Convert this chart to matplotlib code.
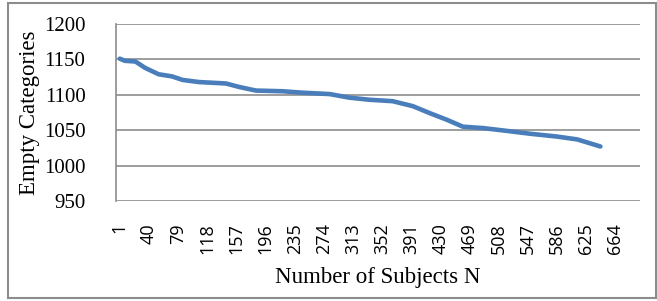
import matplotlib
matplotlib.use("Agg")
import matplotlib.pyplot as plt
from matplotlib.patches import Rectangle

# points (subject index, empty categories)
n_subjects = [1, 8, 22, 35, 53, 71, 85, 107, 143, 161, 183, 219, 245, 282,
              308, 335, 366, 393, 416, 438, 460, 487, 519, 550, 586, 613, 644]
empty_cats = [1151, 1148, 1147, 1138, 1129, 1126, 1121, 1118, 1116, 1111, 1106,
              1105, 1103, 1101, 1096, 1093, 1091, 1084, 1074, 1065, 1055, 1053,
              1049, 1045, 1041, 1037, 1027]
x_ticks = list(range(1, 665, 39))
y_ticks = [950, 1000, 1050, 1100, 1150, 1200]

serif = "Liberation Serif"
sans = "Open Sans"

fig = plt.figure(figsize=(6.57, 3.01), dpi=100)
ax = fig.add_axes([116/657, 1 - 201/301, (640-116)/657, (201-24)/301])

ax.plot(n_subjects, empty_cats, color="#4a7ebb", lw=3.3, solid_capstyle="round")

ax.set_xlim(-4, 697)
ax.set_ylim(950, 1200)
ax.set_yticks(y_ticks)
ax.set_xticks(x_ticks)
ax.set_xticklabels([str(t) for t in x_ticks], rotation=90, family=sans, fontsize=13)
ax.set_yticklabels([str(t) for t in y_ticks], family=serif, fontsize=15)
ax.tick_params(length=0)
ax.tick_params(axis="x", pad=16)
ax.tick_params(axis="y", pad=22)

ax.yaxis.grid(True, color="#8c8c8c", lw=1.2)
ax.set_axisbelow(True)
for s in ["top", "right", "bottom"]:
    ax.spines[s].set_visible(False)
ax.spines["left"].set_color("#8c8c8c")
ax.spines["left"].set_linewidth(1.2)

ax.set_xlabel("Number of Subjects N", family=serif, fontsize=16.5, labelpad=9)
ax.set_ylabel("Empty Categories", family=serif, fontsize=16.5, labelpad=3)

fig.patches.append(Rectangle((8/657, 3/301), 648/657, 295/301, transform=fig.transFigure,
                             fill=False, edgecolor="#8c8c8c", lw=1.5))

fig.savefig("out.png", dpi=100)
